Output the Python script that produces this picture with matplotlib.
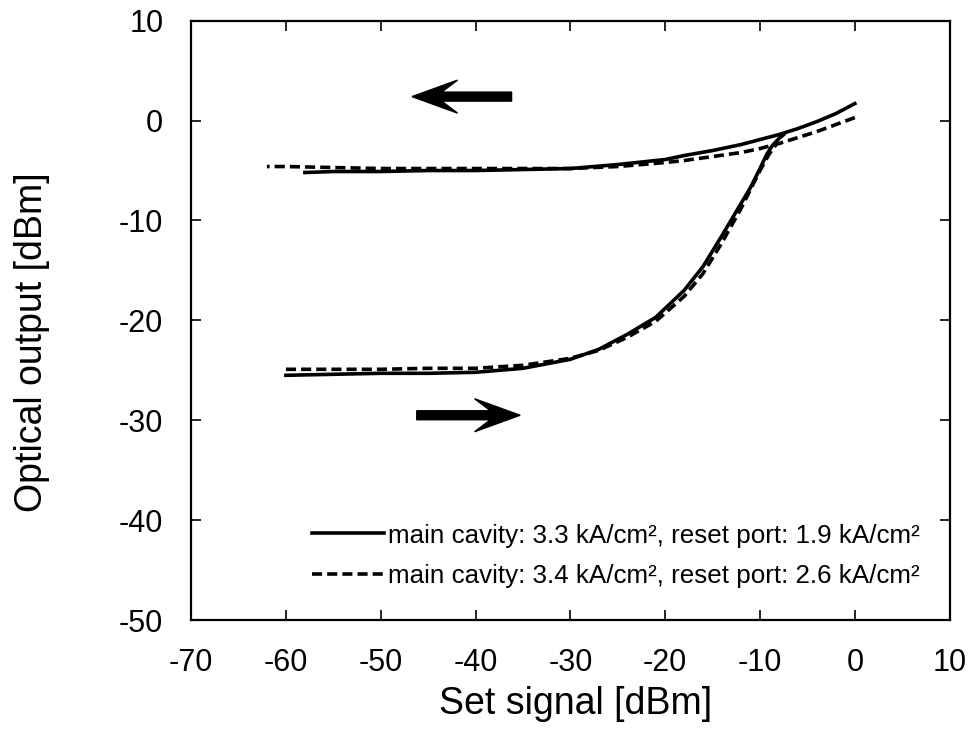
import numpy as np
import matplotlib
matplotlib.use("Agg")
import matplotlib.pyplot as plt

plt.rcParams['font.family'] = ['Liberation Sans', 'DejaVu Sans']
plt.rcParams['axes.unicode_minus'] = False

# solid: main cavity 3.3 kA/cm2, reset port 1.9 kA/cm2
solid_up_x = [-60, -55, -50, -45, -40, -35, -30, -27, -24, -21, -18, -16, -14, -13, -12, -11, -10, -9.3, -8.7, -8, -7.5]
solid_up_y = [-25.5, -25.4, -25.3, -25.3, -25.2, -24.8, -23.9, -22.9, -21.4, -19.7, -17.0, -14.6, -11.5, -9.9, -8.3, -6.7, -4.8, -3.4, -2.5, -1.8, -1.4]
solid_down_x = [0, -2, -4, -6, -8, -10, -12, -15, -18, -20, -25, -30, -35, -40, -45, -50, -55, -58]
solid_down_y = [1.7, 0.7, -0.1, -0.8, -1.4, -1.9, -2.4, -3.0, -3.5, -3.9, -4.4, -4.8, -4.9, -5.0, -5.0, -5.1, -5.1, -5.2]

# dashed: main cavity 3.4 kA/cm2, reset port 2.6 kA/cm2
dash_up_x = [-60, -55, -50, -45, -40, -35, -30, -27, -24, -21, -18, -16, -14, -12, -11, -10, -9, -8.3]
dash_up_y = [-24.9, -24.9, -24.9, -24.8, -24.8, -24.5, -23.8, -23.0, -21.7, -20.1, -17.6, -15.3, -12.2, -8.8, -6.9, -5.0, -3.3, -2.4]
dash_down_x = [0, -2, -4, -6, -8, -10, -12, -15, -18, -20, -25, -30, -35, -40, -45, -50, -55, -60, -62]
dash_down_y = [0.3, -0.4, -1.1, -1.7, -2.3, -2.8, -3.2, -3.6, -4.0, -4.2, -4.6, -4.8, -4.8, -4.8, -4.8, -4.8, -4.7, -4.6, -4.6]

labels = ["main cavity: 3.3 kA/cm\u00b2, reset port: 1.9 kA/cm\u00b2",
          "main cavity: 3.4 kA/cm\u00b2, reset port: 2.6 kA/cm\u00b2"]

fig = plt.figure(figsize=(9.7, 7.39), dpi=100)
ax = fig.add_axes([0.197, 0.161, 0.782, 0.811])

lw = 2.6
dash = (0, (2.8, 1.4))
ax.plot(solid_up_x, solid_up_y, color='black', lw=lw, label=labels[0])
ax.plot(solid_down_x, solid_down_y, color='black', lw=lw)
ax.plot(dash_up_x, dash_up_y, color='black', lw=lw, linestyle=dash, label=labels[1])
ax.plot(dash_down_x, dash_down_y, color='black', lw=lw, linestyle=dash)

# sweep direction arrows
ax.arrow(-36.2, 2.4, -10.5, 0, width=0.9, head_width=3.3, head_length=4.8,
         overhang=0.35, length_includes_head=True, color='black')
ax.arrow(-46.2, -29.5, 10.9, 0, width=0.9, head_width=3.3, head_length=4.8,
         overhang=0.35, length_includes_head=True, color='black')

ax.set_xlim(-70, 10)
ax.set_ylim(-50, 10)
ax.set_xticks(np.arange(-70, 11, 10))
ax.set_yticks(np.arange(-50, 11, 10))
ax.tick_params(direction='in', top=True, right=True, length=7, width=1.2,
               labelsize=22, pad=20)
for s in ax.spines.values():
    s.set_linewidth(1.6)

ax.set_xlabel("Set signal [dBm]", fontsize=27)
ax.set_ylabel("Optical output [dBm]", fontsize=27)
ax.xaxis.label.set_va('center')
ax.yaxis.label.set_va('center')
ax.xaxis.set_label_coords(0.507, -0.14)
ax.yaxis.set_label_coords(-0.21, 0.464)

ax.legend(loc='lower left', bbox_to_anchor=(0.159, 0.054), frameon=False,
          fontsize=18.7, handlelength=2.8, handletextpad=0.12,
          labelspacing=0.62, borderpad=0, borderaxespad=0)

fig.savefig("out.png", dpi=100)
